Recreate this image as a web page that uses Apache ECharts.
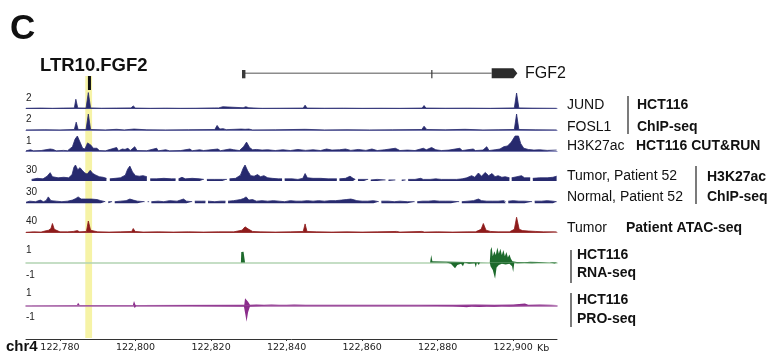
<!DOCTYPE html>
<html>
<head>
<meta charset="utf-8">
<script src="https://cdn.jsdelivr.net/npm/echarts@6/dist/echarts.min.js"></script>
<style>
  html, body { margin: 0; padding: 0; background: #fff; }
  #chart { width: 774px; height: 356px; }
</style>
</head>
<body>
<div id="chart"></div>
<script>
// genomic window (kb on chr4)
var X_MIN = 122771
var X_MAX = 122911.6
var tickLabels = [122780, 122800, 122820, 122840, 122860, 122880, 122900]

// annotation
var highlightRegion = [122786.7, 122788.5]
var ltrElement = [122787.4, 122788.2]
var geneIntron = [122828.2, 122894.3]
var geneExons = [[122828.2, 122829.1], [122878.3, 122878.6], [122894.3, 122901.1]]

// [kb, signal]
var jund = [[122771,0.05],[122775,0.08],[122778,0.05],[122781,0.08],[122783.8,0.1],[122784.2,1.2],[122784.7,0.1],[122786.9,0.08],[122787.5,2.05],[122788.1,0.1],[122791,0.06],[122795,0.08],[122798.8,0.1],[122799.4,0.35],[122800,0.08],[122804,0.05],[122808,0.07],[122812,0.05],[122816,0.06],[122821,0.1],[122821.5,0.3],[122822,0.1],[122823.1,0.25],[122823.6,0.06],[122828.5,0.12],[122829.2,0.25],[122830,0.12],[122832.7,0.06],[122833.1,0.2],[122833.6,0.05],[122838,0.06],[122844.4,0.08],[122844.9,0.45],[122845.4,0.08],[122850,0.06],[122855,0.07],[122860,0.05],[122865,0.06],[122870,0.05],[122875.9,0.08],[122876.4,0.4],[122876.9,0.08],[122882,0.06],[122888,0.07],[122894,0.05],[122900.3,0.1],[122900.9,2.0],[122901.5,0.1],[122905,0.07],[122911.5,0.05]]

var fosl1 = [[122771,0.05],[122776,0.07],[122780,0.05],[122783.8,0.1],[122784.3,1.0],[122784.8,0.1],[122786.9,0.1],[122787.5,2.0],[122788.1,0.1],[122792,0.05],[122795,0.12],[122797,0.05],[122799.6,0.15],[122803,0.06],[122808,0.05],[122814,0.07],[122821,0.1],[122821.6,0.6],[122822.3,0.15],[122823.2,0.2],[122824,0.08],[122828,0.15],[122829,0.12],[122830,0.15],[122831,0.05],[122837,0.06],[122844.9,0.12],[122850,0.05],[122856,0.07],[122862,0.05],[122868,0.06],[122875.8,0.1],[122876.4,0.5],[122877.1,0.1],[122882,0.06],[122887.2,0.12],[122892,0.05],[122896,0.07],[122900.3,0.1],[122900.9,2.0],[122901.5,0.1],[122906,0.06],[122911.5,0.05]]

var h3k27acCutRun = [[122771,0.03],[122772.2,0.1],[122773,0.03],[122775,0.05],[122777.4,0.15],[122778.2,0.12],[122779,0.03],[122780.9,0.06],[122782,0.04],[122783.3,0.3],[122784,0.8],[122784.6,1.0],[122785.3,0.6],[122786,0.2],[122786.6,0.15],[122787.3,0.55],[122787.8,0.45],[122788.2,0.4],[122788.8,0.2],[122789.8,0.2],[122790.4,0.05],[122792,0.03],[122795,0.25],[122795.5,0.03],[122796.5,0.15],[122797.2,0.12],[122798,0.2],[122798.6,0.05],[122799.8,0.3],[122800.4,0.05],[122803,0.04],[122805.6,0.2],[122806,0.03],[122808,0.1],[122809,0.03],[122812,0.05],[122814.4,0.15],[122815,0.04],[122817,0.1],[122818,0.05],[122821.8,0.15],[122822.5,0.04],[122825,0.15],[122826,0.1],[122827.5,0.05],[122828.6,0.3],[122829.4,0.6],[122830.2,0.25],[122831,0.1],[122832,0.12],[122833.5,0.08],[122835,0.1],[122837,0.05],[122839,0.1],[122841,0.05],[122843,0.12],[122845,0.06],[122847,0.1],[122849,0.05],[122850.6,0.15],[122852,0.08],[122854,0.1],[122855.6,0.15],[122857,0.06],[122859,0.12],[122861,0.06],[122862.6,0.15],[122864,0.05],[122866,0.1],[122868.8,0.2],[122870,0.05],[122872,0.08],[122874,0.05],[122876.2,0.2],[122877,0.1],[122878.4,0.25],[122879.5,0.1],[122881,0.05],[122883,0.08],[122885.9,0.2],[122886.5,0.05],[122889.4,0.15],[122890,0.05],[122892,0.08],[122893,0.3],[122893.6,0.05],[122895.2,0.1],[122896.5,0.15],[122897.5,0.3],[122898.5,0.35],[122899.5,0.6],[122900.5,1.0],[122901.4,1.0],[122902,0.5],[122902.8,0.2],[122904,0.12],[122905.5,0.08],[122907,0.1],[122909,0.06],[122911.5,0.08]]

var tumorP52 = [[122771,3],[122772,'-'],[122772.5,3],[122774,5],[122775.5,4],[122776.6,9],[122777.4,15.6],[122778,8],[122779.5,6],[122781,7],[122782.3,6],[122783.2,12],[122783.7,26],[122784.1,30],[122784.7,21],[122785.3,25],[122786,19],[122786.6,15],[122787.2,13],[122788,20],[122788.7,14],[122789.5,11],[122790.4,8],[122791.4,7],[122792.3,5],[122792.7,'-'],[122793.2,4],[122794.6,5],[122796,6],[122797.3,11],[122797.9,22],[122798.5,28],[122799.2,17],[122800,10],[122801,9],[122802,10],[122803,8],[122803.4,'-'],[122803.9,4],[122805.5,4],[122807.5,5],[122809.5,4],[122810.6,4],[122810.9,'-'],[122811.4,4],[122812.3,7],[122813.2,4],[122815,5],[122817,4],[122818.1,3],[122818.4,'-'],[122818.9,3],[122821,3],[122823,3],[122824.2,3],[122824.5,'-'],[122824.9,4],[122826.5,5],[122827.8,11],[122828.5,24],[122829,30],[122829.7,19],[122830.5,10],[122831.4,9],[122832.3,12],[122833.1,8],[122834,10],[122835,6],[122836.2,5],[122837.8,4],[122838.8,4],[122839.1,'-'],[122839.5,4],[122841.5,4],[122843,3],[122844.3,5],[122844.9,14],[122845.5,6],[122847,5],[122849,5],[122851,4],[122853.3,4],[122853.6,'-'],[122854,4],[122855.6,5],[122856.8,9],[122857.6,5],[122858.2,3],[122858.5,'-'],[122858.9,3],[122860.5,3],[122861.6,3],[122861.9,'-'],[122862.3,2],[122864,3],[122866.2,2],[122866.5,'-'],[122867,2],[122868.8,2],[122869.1,'-'],[122870.5,2],[122871.5,2],[122871.8,'-'],[122872.2,3],[122874,3],[122875.5,5],[122876.2,3],[122878,3],[122879.5,4],[122881,3],[122883,3],[122885,3],[122886.5,4],[122887.7,6],[122889,10],[122889.8,7],[122890.8,15],[122891.6,9],[122892.6,16],[122893.5,10],[122894.4,14],[122895.2,8],[122896,10],[122897,7],[122897.9,8],[122899,6],[122899.3,'-'],[122899.6,6],[122901,8],[122902.2,10],[122903,6],[122904.5,6],[122904.8,'-'],[122905.2,5],[122907,6],[122909,6],[122910.5,7],[122911.5,9]]

var normalP52 = [[122771,2],[122772,4],[122773.5,3],[122774.8,6],[122775.6,3],[122776.3,5],[122776.9,12],[122777.6,5],[122779,4],[122780.5,3],[122782,4],[122783.3,6],[122784.2,9],[122784.8,12],[122785.6,8],[122786.8,8],[122788.3,8],[122789.8,7],[122790.8,5],[122792,3],[122792.4,'-'],[122792.8,3],[122793.8,3],[122794.1,'-'],[122794.5,3],[122796,4],[122797.5,5],[122798.5,8],[122799.4,6],[122800.5,4],[122802.4,3],[122802.8,'-'],[122803.2,3],[122803.6,3],[122803.8,'-'],[122804.2,3],[122806,4],[122807.5,3],[122809,5],[122811,4],[122812.7,8],[122813.5,4],[122815,3],[122815.3,'-'],[122815.7,4],[122817.5,4],[122818.5,4],[122818.8,'-'],[122819.2,4],[122821,3],[122822.5,4],[122823.8,4],[122824.1,'-'],[122824.5,4],[122826,5],[122827.8,7],[122828.6,9],[122829.3,12],[122830,6],[122831,7],[122832,4],[122833.5,5],[122835,4],[122836.5,5],[122838,4],[122839.5,3],[122841,5],[122842.5,4],[122844,4],[122845.5,5],[122847,4],[122848.5,5],[122850,4],[122851.5,5],[122853,5],[122854.5,6],[122855.8,7],[122857,8],[122857.6,7],[122858.6,5],[122860,4],[122861.5,4],[122863,5],[122864.4,3],[122864.7,'-'],[122865.1,4],[122867,4],[122868.5,3],[122870,4],[122872,3],[122873.9,3],[122874.2,'-'],[122874.6,3],[122876,4],[122877.5,4],[122879,5],[122880.5,4],[122882,4],[122883.5,4],[122885.7,3],[122886,'-'],[122886.4,3],[122888,4],[122889.5,5],[122890.8,8],[122891.6,5],[122893,4],[122894.5,4],[122896,4],[122897.5,5],[122898,3],[122898.3,'-'],[122898.7,4],[122900,5],[122901.5,4],[122903,4],[122905,3],[122905.3,'-'],[122905.7,4],[122907.5,4],[122909,5],[122910.5,4],[122911.5,3]]

var atacTumor = [[122771,1],[122773,2],[122775,1.5],[122776,4],[122777,6],[122777.6,10],[122778,22],[122778.5,8],[122779,5],[122780,2],[122782,2],[122783.5,3],[122784.6,5],[122785.2,2],[122787,3],[122787.5,28],[122788.1,6],[122789,4],[122790,2],[122793,1.5],[122796,2],[122799,3],[122799.4,10],[122799.9,3],[122802,1.5],[122806,2],[122810,1.5],[122814,2],[122818,1.5],[122822,2],[122826,2],[122828.2,6],[122829,14],[122829.4,18],[122830,8],[122831,3],[122833,2],[122837,1.5],[122841,2],[122844.4,3],[122844.9,21],[122845.4,3],[122848,2],[122852,1.5],[122856,2],[122860,1.5],[122864,2],[122869.1,3],[122870,1.5],[122875.8,3],[122876.5,1.5],[122880,2],[122884,1.5],[122888,2],[122890,2],[122891.5,8],[122892.1,22],[122892.8,6],[122894,3],[122896,2],[122899,2],[122900.3,8],[122900.9,37],[122901.6,8],[122902.5,5],[122904,4],[122906,3],[122908,2],[122911.5,2]]

var rnaPlus = [[122771,0],[122796.5,0],[122796.8,0.06],[122797.1,0],[122827.9,0],[122828,0.85],[122828.6,0.87],[122829,0],[122830.5,0],[122830.8,0.15],[122831.1,0],[122840.5,0],[122840.7,0.05],[122841,0],[122852,0],[122852.2,0.08],[122852.4,0],[122864.5,0],[122864.7,0.1],[122864.9,0],[122878,0],[122878.3,0.6],[122878.6,0.1],[122878.8,0],[122893.8,0],[122894,1.0],[122894.3,1.25],[122894.6,0.5],[122895,0.9],[122895.4,0.6],[122895.8,1.2],[122896.2,0.7],[122896.6,1.1],[122897,0.6],[122897.4,1.0],[122897.8,0.5],[122898.2,0.85],[122898.6,0.4],[122899,0.65],[122899.4,0.3],[122899.8,0.1],[122900.2,0],[122901,0.05],[122901.4,0],[122903,0.03],[122903.3,0],[122904.5,0.06],[122904.8,0],[122911.6,0]]

var rnaMinus = [[122771,0],[122827,0],[122827.2,-0.1],[122827.4,0],[122881.7,0],[122881.9,-0.15],[122882.3,0],[122883.5,-0.1],[122884,-0.25],[122884.6,-0.45],[122885.2,-0.2],[122885.7,-0.35],[122886.2,-0.1],[122886.7,-0.3],[122887.1,0],[122888.3,-0.1],[122888.6,0],[122889.8,-0.05],[122890.1,-0.4],[122890.4,0],[122890.9,-0.2],[122891.2,0],[122893.8,0],[122894,-0.3],[122894.6,-0.6],[122895.2,-1.3],[122895.6,-0.4],[122896.2,-0.2],[122897,-0.1],[122898,-0.15],[122899,-0.1],[122899.7,-0.3],[122900,-0.75],[122900.3,0],[122901,-0.05],[122903,-0.03],[122905,-0.05],[122905.3,0],[122909,0],[122909.3,-0.1],[122909.6,0],[122911,-0.08],[122911.6,0]]

var proPlus = [[122771,0],[122784.5,0.02],[122784.8,0.22],[122785.2,0.02],[122799.3,0.02],[122799.6,0.36],[122800,0.02],[122828.8,0.05],[122829,0.6],[122829.4,0.45],[122829.8,0.3],[122830.3,0.05],[122832,0.06],[122834,0.04],[122836,0.07],[122838,0.05],[122840,0.04],[122842,0.06],[122845,0.04],[122850,0.05],[122855,0.04],[122860,0.05],[122865,0.04],[122870,0.05],[122875,0.04],[122880,0.05],[122885,0.04],[122890,0.06],[122895,0.05],[122900,0.07],[122903.1,0.15],[122904,0.05],[122907,0.06],[122910,0.04],[122911.5,0.03]]

var proMinus = [[122771,0],[122786.6,-0.02],[122786.8,-0.1],[122787.1,-0.02],[122799.5,-0.02],[122799.8,-0.25],[122800.2,-0.02],[122828.7,-0.1],[122829.1,-0.8],[122829.4,-1.4],[122829.8,-0.6],[122830.3,-0.1],[122835,-0.05],[122845,-0.04],[122860,-0.05],[122875,-0.04],[122884,-0.08],[122886,-0.12],[122887.7,-0.18],[122889,-0.1],[122891,-0.14],[122893,-0.1],[122895,-0.12],[122897,-0.08],[122899,-0.1],[122901,-0.08],[122904,-0.06],[122908,-0.05],[122911.5,-0.03]]

var FONT = '"Liberation Sans", Arial, sans-serif'
var TICK_FONT = '"DejaVu Sans", Verdana, sans-serif'
var NAVY = '#272a6e'

// track layout: grid positions in px, scale max
var tracks = [
  { data: [jund], top: 93, height: 15.7, max: 2, color: NAVY, base: '#8e90c0' },
  { data: [fosl1], top: 114, height: 16.3, max: 2, color: NAVY, base: '#8e90c0' },
  { data: [h3k27acCutRun], top: 136, height: 15.3, max: 1, color: NAVY, base: '#8e90c0' },
  { data: [tumorP52], top: 165, height: 16, max: 30, color: NAVY },
  { data: [normalP52], top: 187.3, height: 16, max: 30, color: NAVY },
  { data: [atacTumor], top: 216, height: 16.7, max: 40, color: '#8e1b1b', base: '#c48888' },
  { data: [rnaPlus, rnaMinus], top: 250, height: 25, max: 1, color: '#1d6a2c', signed: true, base: '#b3d4b3' },
  { data: [proPlus, proMinus], top: 293.5, height: 23.5, max: 1, color: '#8b2d8b', signed: true, base: '#a866a8' }
]

var chart = echarts.init(document.getElementById('chart'))

var grids = []
var xAxes = []
var yAxes = []
var series = []

function addGrid(top, height) {
  grids.push({ left: 26, width: 531, top: top, height: height })
  return grids.length - 1
}

function hiddenX(idx) {
  return { gridIndex: idx, type: 'value', min: X_MIN, max: X_MAX, show: false }
}

// 0: gene annotation
var gAnno = addGrid(62, 30)
xAxes.push(hiddenX(gAnno))
yAxes.push({ gridIndex: gAnno, type: 'value', min: 0, max: 30, inverse: true, show: false })

// 1: highlight band
var gHl = addGrid(76, 262)
xAxes.push(hiddenX(gHl))
yAxes.push({ gridIndex: gHl, type: 'value', min: 0, max: 1, show: false })

series.push({
  type: 'custom',
  xAxisIndex: gHl,
  yAxisIndex: gHl,
  z: 0,
  silent: true,
  data: [highlightRegion],
  renderItem: function(params, api) {
    var a = api.coord([api.value(0), 1])
    var b = api.coord([api.value(1), 0])
    return { type: 'rect', shape: { x: a[0], y: a[1], width: b[0] - a[0], height: b[1] - a[1] }, style: { fill: '#f6f3a6' } }
  }
})

series.push({
  type: 'line',
  xAxisIndex: gAnno,
  yAxisIndex: gAnno,
  symbol: 'none',
  silent: true,
  data: [[geneIntron[0], 11.3], [geneIntron[1], 11.3]],
  lineStyle: { color: '#8c8c8c', width: 1.5 }
})

series.push({
  type: 'custom',
  xAxisIndex: gAnno,
  yAxisIndex: gAnno,
  silent: true,
  z: 4,
  data: geneExons,
  renderItem: function(params, api) {
    var isLast = params.dataIndex === geneExons.length - 1
    var x0 = api.coord([api.value(0), 0])[0]
    var x1 = Math.max(api.coord([api.value(1), 0])[0], x0 + 1.2)
    var top = api.coord([0, isLast ? 6.3 : 8])[1]
    var bot = api.coord([0, 16.3])[1]
    if (isLast) {
      return {
        type: 'polygon',
        shape: { points: [[x0, top], [x1 - 4, top], [x1, (top + bot) / 2], [x1 - 4, bot], [x0, bot]] },
        style: { fill: '#2b2b2b' }
      }
    }
    return { type: 'rect', shape: { x: x0, y: top, width: x1 - x0, height: bot - top }, style: { fill: '#3a3a3a' } }
  }
})

series.push({
  type: 'custom',
  xAxisIndex: gAnno,
  yAxisIndex: gAnno,
  silent: true,
  z: 4,
  data: [ltrElement],
  renderItem: function(params, api) {
    var a = api.coord([api.value(0), 14])
    var b = api.coord([api.value(1), 28])
    return { type: 'rect', shape: { x: a[0], y: a[1], width: b[0] - a[0], height: b[1] - a[1] }, style: { fill: '#111' } }
  }
})

// signal tracks
tracks.forEach(function(t) {
  var idx = addGrid(t.top, t.height)
  if (t.signed) {
    xAxes.push({
      gridIndex: idx, type: 'value', min: X_MIN, max: X_MAX,
      axisLine: { onZero: true, lineStyle: { color: t.base, width: 1.5 } },
      axisTick: { show: false }, axisLabel: { show: false }, splitLine: { show: false }
    })
    yAxes.push({
      gridIndex: idx, type: 'value', min: -1, max: 1, interval: 1,
      axisLine: { show: false }, axisTick: { show: false }, splitLine: { show: false },
      axisLabel: {
        inside: true, margin: 0, fontSize: 10, color: '#222', fontFamily: FONT,
        formatter: function(v) { return v === 0 ? '' : String(v) }
      }
    })
  } else {
    if (t.base) {
      xAxes.push({
        gridIndex: idx, type: 'value', min: X_MIN, max: X_MAX,
        axisLine: { lineStyle: { color: t.base, width: 1.2 } },
        axisTick: { show: false }, axisLabel: { show: false }, splitLine: { show: false }
      })
    } else {
      xAxes.push(hiddenX(idx))
    }
    yAxes.push({
      gridIndex: idx, type: 'value', min: 0, max: t.max, interval: t.max,
      axisLine: { show: false }, axisTick: { show: false }, splitLine: { show: false },
      axisLabel: {
        inside: true, margin: 0, fontSize: 10, color: '#222', fontFamily: FONT,
        verticalAlign: 'top', showMaxLabel: true,
        formatter: function(v) { return v === t.max ? String(t.max) : '' }
      }
    })
  }
  t.data.forEach(function(d) {
    series.push({
      type: 'line',
      xAxisIndex: idx,
      yAxisIndex: idx,
      data: d,
      symbol: 'none',
      silent: true,
      clip: false,
      z: 3,
      lineStyle: { color: t.color, width: t.signed ? 0 : 0.8 },
      areaStyle: { color: t.color, opacity: 1 }
    })
  })
})

// coordinate axis
var gAxis = addGrid(338, 1)
xAxes.push({
  gridIndex: gAxis, type: 'value', min: X_MIN, max: X_MAX, position: 'bottom',
  name: 'Kb', nameLocation: 'end', nameGap: -20,
  nameTextStyle: { fontSize: 9.5, color: '#222', fontFamily: TICK_FONT, verticalAlign: 'top', padding: [5, 0, 0, 0] },
  axisLine: { onZero: false, lineStyle: { color: '#333', width: 1 } },
  axisTick: { show: true, length: 2, customValues: tickLabels, lineStyle: { color: '#333' } },
  splitLine: { show: false },
  axisLabel: {
    customValues: tickLabels, margin: 4, fontSize: 9.5, color: '#222', fontFamily: TICK_FONT,
    formatter: function(v) { return v.toLocaleString('en-US') }
  }
})
yAxes.push({ gridIndex: gAxis, type: 'value', min: 0, max: 1, show: false })

function txt(x, y, s, bold, size) {
  return {
    type: 'text', x: x, y: y, silent: true,
    style: { text: s, fill: '#111', font: (bold ? 'bold ' : '') + size + 'px ' + FONT, verticalAlign: 'middle', align: 'left' }
  }
}

function bar(x, y1, y2) {
  return { type: 'line', silent: true, shape: { x1: x, y1: y1, x2: x, y2: y2 }, style: { stroke: '#222', lineWidth: 1.2 } }
}

var graphics = [
  txt(10, 29, 'C', true, 35),
  txt(40, 66, 'LTR10.FGF2', true, 18.5),
  txt(525, 74, 'FGF2', false, 16),
  txt(567, 105, 'JUND', false, 14),
  txt(567, 127, 'FOSL1', false, 14),
  txt(567, 146, 'H3K27ac', false, 14),
  bar(628, 96, 134),
  txt(637, 105, 'HCT116', true, 14),
  txt(637, 127, 'ChIP-seq', true, 14),
  txt(636, 146, 'HCT116 CUT&RUN', true, 14),
  txt(567, 176.5, 'Tumor, Patient 52', false, 14),
  txt(567, 197, 'Normal, Patient 52', false, 14),
  bar(696, 166, 204),
  txt(707, 177, 'H3K27ac', true, 14),
  txt(707, 197, 'ChIP-seq', true, 14),
  txt(567, 228, 'Tumor', false, 14),
  txt(626, 228, 'Patient ATAC-seq', true, 14),
  bar(571, 250, 283),
  txt(577, 255, 'HCT116', true, 14),
  txt(577, 273, 'RNA-seq', true, 14),
  bar(571, 293, 327),
  txt(577, 300, 'HCT116', true, 14),
  txt(577, 319, 'PRO-seq', true, 14),
  txt(6, 347, 'chr4', true, 15)
]

chart.setOption({
  animation: false,
  backgroundColor: '#fff',
  grid: grids,
  xAxis: xAxes,
  yAxis: yAxes,
  series: series,
  graphic: graphics
})
</script>
</body>
</html>
